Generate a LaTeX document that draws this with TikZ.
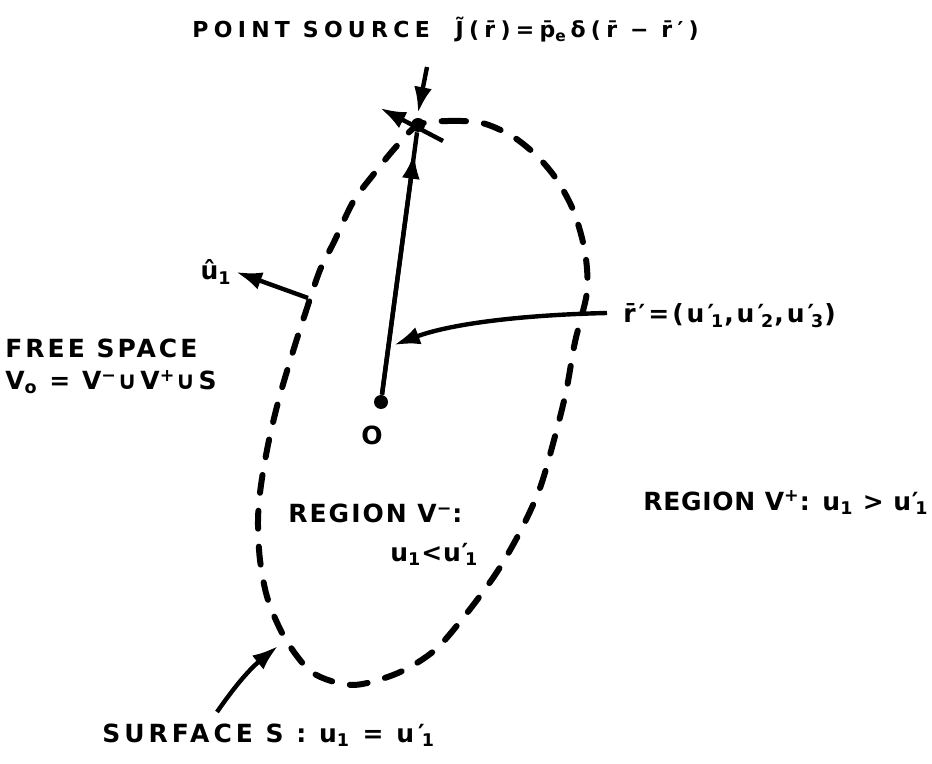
\documentclass[tikz,border=0pt]{standalone}
\usepackage{fontspec}
\setmainfont[LetterSpace=12]{DejaVu Sans}
\newfontfamily\fTitle[LetterSpace=24]{DejaVu Sans}
\newfontfamily\fWide[LetterSpace=16]{DejaVu Sans}
\newfontfamily\fNarrow[LetterSpace=8]{DejaVu Sans}
\newfontfamily\fTight[LetterSpace=3]{DejaVu Sans}
\usetikzlibrary{arrows.meta,calc}
\newcommand\upr[1]{u′\kern-0.12em\textsubscript{#1}}
\begin{document}
\begin{tikzpicture}[x=0.5pt,y=-0.5pt,
  every node/.style={font=\fontsize{12.5}{15}\selectfont\bfseries, inner sep=0pt},
  lbl/.style={anchor=base west},
  arr/.style={line width=2.2pt, -{Latex[length=13pt,width=9pt]}},
  plain/.style={line width=2.2pt},
  surf/.style={line width=3pt, line cap=round, dash pattern=on 9pt off 9pt},
  dot/.style={circle, fill=black, inner sep=0pt, minimum size=#1}]
\useasboundingbox (0,0) rectangle (932,764);

% surface S (closed dashed curve)
\draw[surf] plot[smooth cycle] coordinates {
  (418,125) (448,121) (482,123) (512,136) (537,156) (557,180) (574,212)
  (585,252) (587,292) (575,342) (566,392) (554,440) (540,488) (521,530)
  (497,572) (467,613) (435,650) (398,673) (353,685) (313,673) (286,640)
  (268,600) (260,560) (258,520) (261,485) (269,440) (280,395) (295,345)
  (307,308) (320,270) (334,242) (353,202) (373,175) (395,148)};

% point source and origin
\node[dot=7pt] (src) at (418,125) {};
\node[dot=7pt] (O) at (381,402) {};

% position vector r'
\draw[plain] (O) -- (src);
\draw[arr] (O) -- ($(O)!0.9!(src)$);

% arrow pointing to the source
\coordinate (dtail) at (427,67);
\coordinate (dtip) at (418,113);
\draw[arr] (dtail) -- (dtip);

% normal at the source
\coordinate (ntail) at (443,141);
\coordinate (ntip) at (380,108);
\draw[arr] (ntail) -- (ntip);

% normal u1 hat
\coordinate (u1tail) at (308,298);
\coordinate (u1tip) at (236,272);
\draw[arr] (u1tail) -- (u1tip);

% r' label arrow
\coordinate (rtail) at (607,313);
\coordinate (rtip) at (394,345);
\draw[arr] (rtail) .. controls (520,315) and (450,324) .. (rtip);

% surface arrow
\coordinate (stail) at (217,712);
\coordinate (stip) at (278,646);
\draw[arr] (stail) to[bend left=8] (stip);

% labels
\node[lbl, font=\fontsize{11}{13}\selectfont\bfseries\fTitle] (title) at (192,38)
  {POINT SOURCE\ \ J̃(r̄)=p̄\textsubscript{e}\,δ(r̄ − r̄′)};
\node (Olbl) at (372,435) {O};
\node (u1lbl) at (216,272) {û\textsubscript{1}};
\node[lbl] (free) at (5,358) {FREE SPACE};
\node[lbl] (vo) at (5,390) {V\textsubscript{o} = V\textsuperscript{−}∪V\textsuperscript{+}∪S};
\node[lbl] (rlbl) at (623,323) {r̄′=(\upr{1},\upr{2},\upr{3})};
\node[lbl, font=\fontsize{12.5}{15}\selectfont\bfseries\fNarrow] (vminus) at (288,523) {REGION V\textsuperscript{−}:};
\node[lbl, font=\fontsize{12.5}{15}\selectfont\bfseries\fTight] (vmcond) at (390,561) {u\textsubscript{1}<\upr{1}};
\node[anchor=base east, font=\fontsize{12.5}{15}\selectfont\bfseries\fTight] (vplus) at (929,510) {REGION V\textsuperscript{+}: u\textsubscript{1} > \upr{1}};
\node[lbl, font=\fontsize{12.5}{15}\selectfont\bfseries\fWide] (surflbl) at (102,742) {SURFACE S : u\textsubscript{1} = \upr{1}};
\end{tikzpicture}
\end{document}
